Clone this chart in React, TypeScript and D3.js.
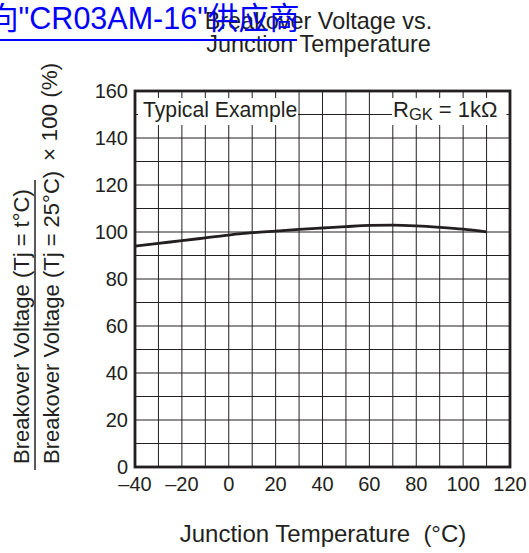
import React from "react";
import * as d3 from "d3";

const temps = [-40, -30, -20, -10, 0, 10, 20, 30, 40, 50, 60, 70, 80, 90, 100, 110];
const ratio = [94.0, 95.2, 96.3, 97.5, 98.7, 99.7, 100.4, 101.1, 101.7, 102.3, 102.8, 102.9, 102.6, 102.0, 101.2, 100.0];
const xTicks = [-40, -20, 0, 20, 40, 60, 80, 100, 120];
const yTicks = [0, 20, 40, 60, 80, 100, 120, 140, 160];
const xGrid = d3.range(-40, 121, 10);
const yGrid = d3.range(0, 161, 10);
const titleLines = ["Breakover Voltage vs.", "Junction Temperature"];
const linkText = "向\"CR03AM-16\"供应商";

const INK = "#231f20";
const FONT = "'Liberation Sans', Arial, Helvetica, sans-serif";

export default function App() {
  const W = 529, H = 553;
  const L = 135, R = 510, T = 91, B = 467;
  const x = d3.scaleLinear().domain([-40, 120]).range([L, R]);
  const y = d3.scaleLinear().domain([0, 160]).range([B, T]);
  const line = d3
    .line<number>()
    .x((_, i) => x(temps[i]))
    .y((d) => y(d))
    .curve(d3.curveMonotoneX);
  const fmt = (v: number) => (v < 0 ? "\u2013" + Math.abs(v) : String(v));

  return (
    <svg
      width={W}
      height={H}
      style={{ position: "absolute", left: 0, top: 0, background: "#fff" }}
      fontFamily={FONT}
    >
      <rect x={0} y={0} width={W} height={H} fill="#fff" />
      {/* title */}
      {titleLines.map((t, i) => (
        <text key={i} x={318.5} y={28.5 + i * 23} textAnchor="middle" fontSize={23.4} fill={INK}>
          {t}
        </text>
      ))}
      {/* grid */}
      <g stroke={INK} strokeWidth={1}>
        {xGrid.map((v) => (
          <line key={"gx" + v} x1={x(v)} x2={x(v)} y1={T} y2={B} />
        ))}
        {yGrid.map((v) => (
          <line key={"gy" + v} x1={L} x2={R} y1={y(v)} y2={y(v)} />
        ))}
      </g>
      {/* legend boxes */}
      <rect x={138} y={98} width={160} height={27} fill="#fff" />
      <rect x={392} y={98} width={114.5} height={27} fill="#fff" />
      <text x={143} y={116.5} fontSize={21.2} fill={INK}>
        Typical Example
      </text>
      <text x={393} y={116.5} fontSize={22} fill={INK}>
        R
        <tspan fontSize={16.5} dy={3.5}>GK</tspan>
        <tspan dy={-3.5}>{" = 1k\u03A9"}</tspan>
      </text>
      {/* curve */}
      <path d={line(ratio) || ""} fill="none" stroke={INK} strokeWidth={2.8} strokeLinecap="butt" />
      {/* frame */}
      <rect x={L} y={T} width={R - L} height={B - T} fill="none" stroke={INK} strokeWidth={2.8} />
      {/* y ticks */}
      {yTicks.map((v) => (
        <text key={"yt" + v} x={128} y={y(v)} dy="0.35em" textAnchor="end" fontSize={20} fill={INK}>
          {v}
        </text>
      ))}
      {/* x ticks */}
      {xTicks.map((v) => (
        <text key={"xt" + v} x={x(v)} y={491} textAnchor="middle" fontSize={20} fill={INK}>
          {fmt(v)}
        </text>
      ))}
      {/* x title */}
      <text x={323} y={542} textAnchor="middle" fontSize={24} fill={INK}>
        {"Junction Temperature\u00A0 (\u00B0C)"}
      </text>
      {/* y title: fraction */}
      <g>
        <text transform="translate(29,464) rotate(-90)" fontSize={22} fill={INK}>
          {"Breakover Voltage (Tj = t\u00B0C)"}
        </text>
        <line x1={35} x2={35} y1={470} y2={180} stroke={INK} strokeWidth={1.5} />
        <text transform="translate(59,464) rotate(-90)" fontSize={22} fill={INK}>
          {"Breakover Voltage (Tj = 25\u00B0C)"}
        </text>
        <text transform="translate(57,161) rotate(-90)" fontSize={22.5} fill={INK}>
          {"\u00D7 100 (%)"}
        </text>
      </g>
      {/* overlaid link text */}
      <text x={-12} y={28.5} fontSize={30.5} fill="#0000ff" fontFamily={"'Liberation Sans', Arial, 'Noto Sans CJK SC', sans-serif"}>
        {linkText}
      </text>
      <rect x={0} y={39} width={297} height={2} fill="#0000ff" />
    </svg>
  );
}
